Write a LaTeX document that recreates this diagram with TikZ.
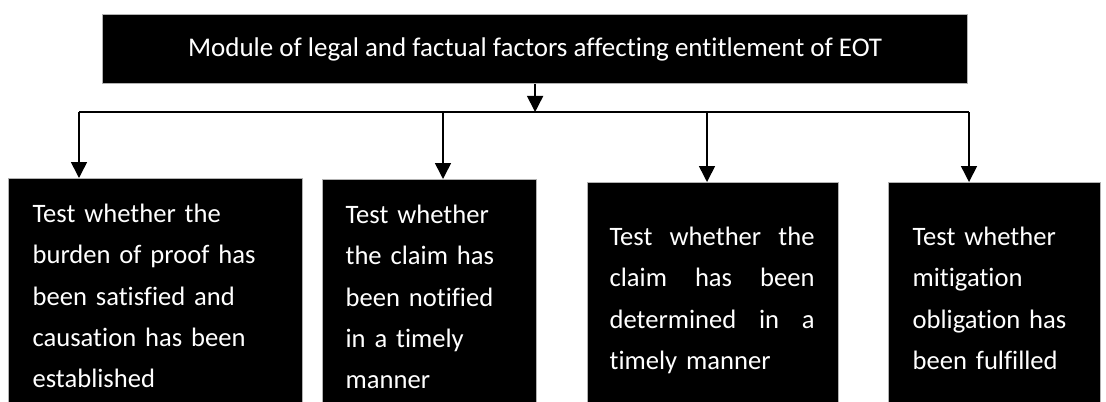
\documentclass[tikz,border=0pt]{standalone}
\usepackage{fontspec}
\setmainfont{Carlito}[Ligatures=NoCommon]
\usetikzlibrary{arrows.meta}
\newcommand{\jline}[1]{\leavevmode\hbox to 102.5pt{#1}}

\begin{document}
\begin{tikzpicture}[
    topbox/.style={rectangle,draw=gray!60,fill=black,text=white,line width=0.6pt,
      anchor=north west,minimum width=432.5pt,minimum height=34.5pt,
      font=\fontsize{13.5}{16}\selectfont},
    testbox/.style={rectangle,draw=gray!60,fill=black,text=white,line width=0.6pt,
      anchor=north west,inner ysep=0pt,align=left,text depth=110pt,
      font=\fontsize{13.3}{20.6}\selectfont},
    arrow/.style={-{Triangle[length=8pt,width=8pt]},line width=0.8pt}
  ]
    \useasboundingbox (0,0) rectangle (553pt,-200.5pt);

    \node[topbox] (module) at (51pt,-7pt)
      {Module of legal and factual factors affecting entitlement of EOT};

    \node[testbox,inner xsep=12pt,text width=123pt,text height=22pt] (burden) at (4pt,-89pt)
      {Test whether the\\burden of proof has\\been satisfied and\\causation has been\\established};
    \node[testbox,inner xsep=11.5pt,text width=84pt,text height=22pt] (notified) at (161pt,-89.5pt)
      {Test whether\\the claim has\\been notified\\in a timely\\manner};
    \node[testbox,inner xsep=11pt,text width=103.5pt,text height=31.5pt] (determined) at (293.5pt,-91pt)
      {\jline{Test\hfill whether\hfill the}\\\jline{claim\hfill has\hfill been}\\
       \jline{determined\hfill in\hfill a}\\timely manner};
    \node[testbox,inner xsep=12pt,text width=82pt,text height=31.5pt] (mitigation) at (444pt,-91pt)
      {Test whether\\mitigation\\obligation has\\been fulfilled};

    % bus and drops
    \coordinate (hub) at (module.south |- 0,-56pt);
    \draw[arrow] (module.south) -- (hub);
    \foreach \x/\n in {39.5/burden,221.5/notified,353.5/determined,484.5/mitigation}
      \coordinate (drop-\n) at (\x pt,-56pt);
    \draw[line width=0.8pt] (drop-burden) -- (drop-mitigation);
    \foreach \n in {burden,notified,determined,mitigation}
      \draw[arrow] (drop-\n) -- (drop-\n |- \n.north);
  \end{tikzpicture}
\end{document}
